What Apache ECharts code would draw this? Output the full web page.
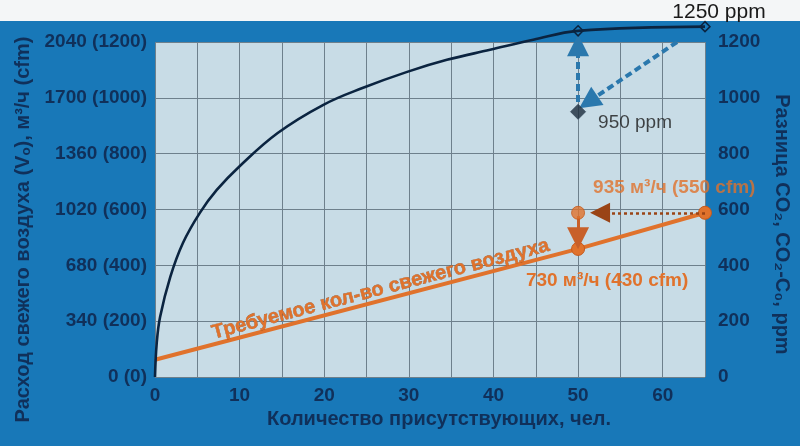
<!DOCTYPE html>
<html>
<head>
<meta charset="utf-8">
<script src="https://cdn.jsdelivr.net/npm/echarts@6/dist/echarts.min.js"></script>
<style>
html,body{margin:0;padding:0;background:#1878b8;}
#c{width:800px;height:446px;}
</style>
</head>
<body>
<div id="c"></div>
<script>
// ---- data ----
const curvePersons = [0, 0.2, 0.6, 1.8, 3.3, 5.3, 7.3, 10, 14.5, 19.9, 24.6, 29.8, 34.5, 39.6, 44.7, 50, 65];
const curveCO2 = [0, 120, 215, 358, 480, 588, 670, 755, 874, 975, 1036, 1093, 1136, 1172, 1208, 1240, 1255];
const airPersons = [0, 50, 65];
const airFlow = [105, 780, 1000];          // m3/h
const targetPoint = [50, 1000];            // m3/h, 935 m3/h annotation point
const lowPoint = [50, 950];                // ppm
const xTicks = [0, 10, 20, 30, 40, 50, 60];
const leftTicks = [0, 340, 680, 1020, 1360, 1700, 2040];
const rightTicks = [0, 200, 400, 600, 800, 1000, 1200];
const labels = {
  top: '1250 ppm',
  low: '950 ppm',
  upper: '935 м³/ч (550 cfm)',
  lower: '730 м³/ч (430 cfm)',
  line: 'Требуемое кол-во свежего воздуха',
  xName: 'Количество присутствующих, чел.',
  yLeft: 'Расход свежего воздуха (Vₒ), м³/ч (cfm)',
  yRight: 'Разница CO₂, CO₂-C₀, ppm'
};

const navy = '#10305a';
const orange = '#e0722c';
const steel = '#2a78ad';
const FONT = '"Liberation Sans", Arial, sans-serif';

function airAt(v) {
  for (let i = 0; i < airPersons.length - 1; i++) {
    if (v >= airPersons[i] && v <= airPersons[i + 1]) {
      const t = (v - airPersons[i]) / (airPersons[i + 1] - airPersons[i]);
      return airFlow[i] + t * (airFlow[i + 1] - airFlow[i]);
    }
  }
  return airFlow[airFlow.length - 1];
}

const curveData = curvePersons.map((p, i) => {
  const item = { value: [p, curveCO2[i]] };
  if (p === 50) {
    item.symbol = 'diamond'; item.symbolSize = 10;
    item.itemStyle = { color: 'transparent', borderColor: '#0b2440', borderWidth: 1.5 };
  } else if (i === curvePersons.length - 1) {
    item.symbol = 'diamond'; item.symbolSize = 10;
    item.itemStyle = { color: 'transparent', borderColor: '#0b2440', borderWidth: 1.5 };
    item.label = { show: true, position: 'top', distance: 3, offset: [14, 5],
      formatter: labels.top, color: '#1a1a1a', fontSize: 21, fontFamily: FONT };
  } else {
    item.symbol = 'none';
  }
  return item;
});

const airData = airPersons.map((p, i) => {
  const item = { value: [p, airFlow[i]] };
  if (i === 0) { item.symbol = 'none'; }
  else {
    item.symbol = 'circle'; item.symbolSize = 13;
    item.itemStyle = { color: orange, borderColor: '#c55a1c', borderWidth: 1 };
  }
  if (p === 50) {
    item.label = { show: true, position: 'bottom', distance: 15, offset: [29, 0],
      formatter: labels.lower, color: orange, fontSize: 19, fontWeight: 'bold', fontFamily: FONT };
  }
  return item;
});

const chart = echarts.init(document.getElementById('c'), null, { renderer: 'canvas' });
const textLineStart = 4, textLineEnd = 50;

chart.setOption({
  backgroundColor: '#1878b8',
  animation: false,
  graphic: [{
    type: 'rect', z: 0, shape: { x: 0, y: 0, width: 800, height: 21 },
    style: { fill: '#f4f6f7' }
  }],
  grid: {
    left: 155, right: 95, top: 42, bottom: 69, show: true,
    backgroundColor: '#c8dce6', borderWidth: 0
  },
  xAxis: {
    type: 'value', min: 0, max: 65, interval: 5,
    axisLine: { show: false }, axisTick: { show: false },
    splitLine: { show: true, lineStyle: { color: '#6e808c', width: 1 } },
    axisLabel: {
      color: navy, fontSize: 19, fontWeight: 'bold', fontFamily: FONT, margin: 9,
      formatter: v => xTicks.indexOf(v) >= 0 ? String(v) : ''
    },
    name: labels.xName, nameLocation: 'middle', nameGap: 22,
    nameTextStyle: { color: navy, fontSize: 20, fontWeight: 'bold', fontFamily: FONT, padding: [0, 0, 0, 18] }
  },
  yAxis: [{
    type: 'value', min: 0, max: 2040, interval: 340, position: 'left',
    axisLine: { show: false }, axisTick: { show: false },
    splitLine: { show: true, lineStyle: { color: '#6e808c', width: 1 } },
    axisLabel: {
      color: navy, fontSize: 19, fontWeight: 'bold', fontFamily: FONT, margin: 8,
      formatter: v => leftTicks.indexOf(v) >= 0 ? v + ' (' + Math.round(v / 1.7) + ')' : ''
    },
    name: labels.yLeft, nameLocation: 'middle', nameRotate: 90, nameGap: 122,
    nameTextStyle: { color: navy, fontSize: 20, fontWeight: 'bold', fontFamily: FONT, padding: [0, 40, 0, 0] }
  }, {
    type: 'value', min: 0, max: 1200, interval: 200, position: 'right',
    axisLine: { show: false }, axisTick: { show: false }, splitLine: { show: false },
    axisLabel: {
      color: navy, fontSize: 19, fontWeight: 'bold', fontFamily: FONT, margin: 13,
      formatter: v => rightTicks.indexOf(v) >= 0 ? String(v) : ''
    },
    name: labels.yRight, nameLocation: 'middle', nameRotate: -90, nameGap: 62,
    nameTextStyle: { color: navy, fontSize: 20, fontWeight: 'bold', fontFamily: FONT, padding: [0, 0, 0, 30] }
  }],
  series: [{
    type: 'line', name: 'co2', yAxisIndex: 1, clip: false,
    smooth: 0.4, showSymbol: true, symbol: 'none',
    data: curveData, z: 5,
    lineStyle: { color: '#0b2440', width: 2.6 },
    markLine: {
      silent: true, animation: false,
      label: { show: false },
      data: [
        [{ coord: [50, 985], symbol: 'none', lineStyle: { color: steel, width: 4, type: [7, 4] } },
         { coord: [50, 1188], symbol: 'triangle', symbolSize: 22 }],
        [{ coord: [61.7, 1200], symbol: 'none', lineStyle: { color: steel, width: 4, type: [7, 4] } },
         { coord: [51.2, 985], symbol: 'triangle', symbolSize: 22 }]
      ]
    }
  }, {
    type: 'line', name: 'air', yAxisIndex: 0, clip: false,
    showSymbol: true, data: airData, z: 4,
    lineStyle: { color: orange, width: 4 },
    markLine: {
      silent: true, animation: false,
      label: { show: false },
      data: [
        [{ coord: [65, targetPoint[1]], symbol: 'none', lineStyle: { color: '#9a4416', width: 2.5, type: [3, 3] } },
         { coord: [52.6, targetPoint[1]], symbol: 'triangle', symbolSize: 20 }],
        [{ coord: [50, 980], symbol: 'none', lineStyle: { color: '#c8602a', width: 3, type: 'solid' } },
         { coord: [50, 845], symbol: 'triangle', symbolSize: 22 }],
        [{ coord: [textLineStart, airAt(textLineStart)], symbol: 'none',
           lineStyle: { color: 'rgba(0,0,0,0)', width: 1 },
           label: { show: true, position: 'insideMiddleTop', distance: 1, formatter: labels.line,
             color: orange, fontSize: 20, fontWeight: 'bold', fontFamily: FONT,
             textBorderColor: '#8a4a20', textBorderWidth: 0.4 } },
         { coord: [textLineEnd, airAt(textLineEnd)], symbol: 'none' }]
      ]
    }
  }, {
    type: 'scatter', name: 'target', yAxisIndex: 0, z: 6,
    data: [{ value: targetPoint }],
    symbol: 'circle', symbolSize: 13,
    itemStyle: { color: orange, borderColor: '#c55a1c', borderWidth: 1 },
    label: { show: true, position: 'right', distance: 8, offset: [0, -25],
      formatter: labels.upper, color: orange, fontSize: 19, fontWeight: 'bold', fontFamily: FONT }
  }, {
    type: 'scatter', name: 'low', yAxisIndex: 1, z: 6,
    data: [{ value: lowPoint }],
    symbol: 'diamond', symbolSize: 15,
    itemStyle: { color: '#1c2c3c', borderColor: '#33475a', borderWidth: 1 },
    label: { show: true, position: 'right', distance: 12, offset: [0, 11],
      formatter: labels.low, color: '#1a1a1a', fontSize: 19, fontFamily: FONT }
  }]
});
</script>
</body>
</html>
